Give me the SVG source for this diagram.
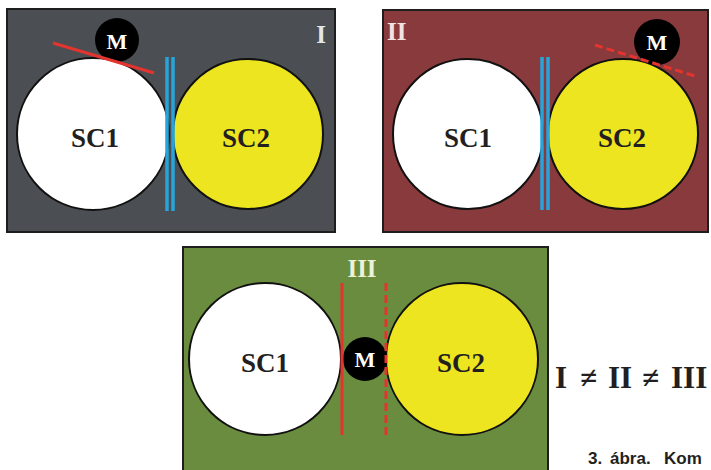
<svg xmlns="http://www.w3.org/2000/svg" width="711" height="470" viewBox="0 0 711 470">
<style>
.panel{stroke:#1e1e1e;stroke-width:2}
.sc1{fill:#ffffff;stroke:#111;stroke-width:2}
.sc2{fill:#ede51f;stroke:#111;stroke-width:2}
.m{fill:#000}
.lbl{font-family:"Liberation Serif","Times New Roman",serif;font-weight:bold;fill:#231f20;text-anchor:middle}
.sc{font-size:27px}
.mt{font-size:22px;fill:#ffffff}
.roman{font-family:"Liberation Serif","Times New Roman",serif;font-weight:bold;font-size:25px}
.blue{stroke:#27a4da;stroke-width:3.5}
.red{stroke:#e3342f;stroke-width:3;fill:none}
.dash{stroke-dasharray:8 4}
</style>
<rect width="711" height="470" fill="#ffffff"/>
<g id="panel-I">
<rect class="panel" x="7" y="9" width="328" height="223" fill="#4b4e52"/>
<g id="I-sc1"><circle class="sc1" cx="93" cy="134" r="76"/><text class="lbl sc" x="95" y="147">SC1</text></g>
<g id="I-sc2"><circle class="sc2" cx="248" cy="134" r="75"/><text class="lbl sc" x="246" y="147">SC2</text></g>
<g id="I-m"><circle class="m" cx="117" cy="40" r="22"/><text class="lbl mt" x="117" y="49">M</text></g>
<text class="roman" x="321" y="43" fill="#e6e6e6" text-anchor="middle">I</text>
</g>
<g id="panel-II">
<rect class="panel" x="383" y="10" width="325" height="222" fill="#883a3c"/>
<g id="II-sc1"><circle class="sc1" cx="468" cy="134" r="75"/><text class="lbl sc" x="468" y="147">SC1</text></g>
<g id="II-sc2"><circle class="sc2" cx="623" cy="134" r="75"/><text class="lbl sc" x="622" y="147">SC2</text></g>
<g id="II-m"><circle class="m" cx="657" cy="42" r="23"/><text class="lbl mt" x="657" y="50">M</text></g>
<text class="roman" x="387" y="40" fill="#f3e2e2">II</text>
</g>
<g id="panel-III">
<rect class="panel" x="183" y="247" width="365" height="232" fill="#6a8c3e"/>
<g id="III-sc1"><circle class="sc1" cx="265" cy="359" r="76"/><text class="lbl sc" x="265" y="372">SC1</text></g>
<g id="III-sc2"><circle class="sc2" cx="462" cy="359" r="76"/><text class="lbl sc" x="461" y="372">SC2</text></g>
<g id="III-m"><circle class="m" cx="365" cy="359" r="22"/><text class="lbl mt" x="365" y="367">M</text></g>
<text class="roman" x="362" y="277" fill="#eaf2d8" text-anchor="middle" font-size="24">III</text>
</g>
<g id="connectors">
<line class="blue" x1="167" y1="57" x2="167" y2="211"/>
<line class="blue" x1="173" y1="57" x2="173" y2="211"/>
<line class="red" x1="53" y1="43" x2="154" y2="73"/>
<line class="blue" x1="542" y1="57" x2="542" y2="210"/>
<line class="blue" x1="548" y1="57" x2="548" y2="210"/>
<line class="red dash" x1="595" y1="45" x2="698" y2="77"/>
<line class="red" x1="342" y1="283" x2="342" y2="435"/>
<line class="red dash" x1="386" y1="283" x2="386" y2="435"/>
</g>
<text font-family="'Liberation Serif','Times New Roman',serif" font-weight="bold" font-size="31" fill="#231f20" y="388"><tspan x="555">I</tspan><tspan x="580">≠</tspan><tspan x="608">II</tspan><tspan x="642">≠</tspan><tspan x="671">III</tspan></text>
<text font-family="'Liberation Sans',Arial,sans-serif" font-weight="bold" font-size="17" fill="#231f20" y="464"><tspan x="588">3.</tspan><tspan x="610">ábra.</tspan><tspan x="664">Kom</tspan></text>
</svg>
